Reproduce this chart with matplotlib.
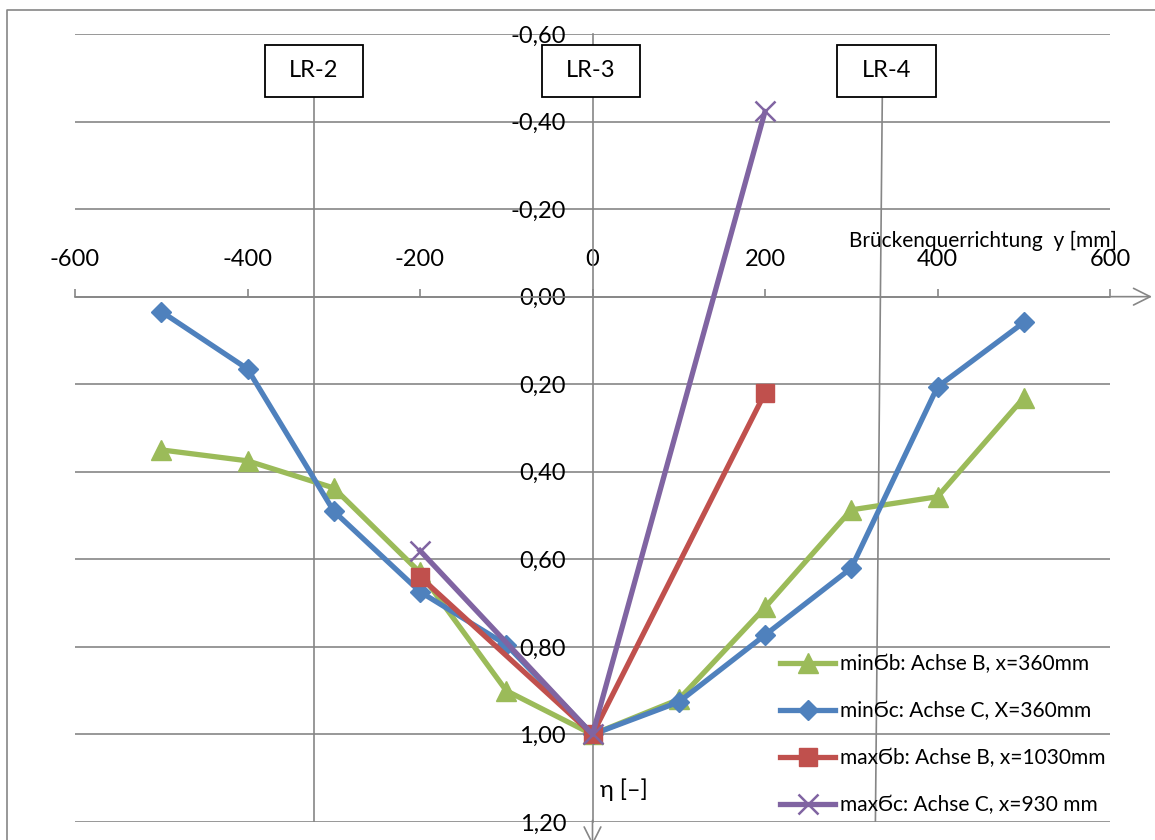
import matplotlib.pyplot as plt
import matplotlib.ticker as mticker
from matplotlib.patches import Rectangle
from matplotlib.lines import Line2D

plt.rcParams['font.family'] = ['Lato', 'DejaVu Sans']
plt.rcParams['axes.unicode_minus'] = False

# positions across the bridge [mm]
y_pos = [-500, -400, -300, -200, -100, 0, 100, 200, 300, 400, 500]
min_b = [0.35, 0.375, 0.437, 0.63, 0.90, 1.00, 0.92, 0.71, 0.487, 0.457, 0.231]
min_c = [0.034, 0.165, 0.49, 0.674, 0.795, 1.00, 0.926, 0.773, 0.62, 0.206, 0.059]
y_short = [-200, 0, 200]
max_b = [0.64, 1.00, 0.22]
max_c = [0.58, 1.00, -0.423]

labels = ['minϬb: Achse B, x=360mm', 'minϬc: Achse C, X=360mm',
          'maxϬb: Achse B, x=1030mm', 'maxϬc: Achse C, x=930 mm']

# load path markers (drawn annotations)
lr_names = ['LR-2', 'LR-3', 'LR-4']
lr_x_top = [-323, 0, 336]
lr_x_bot = [-323, 0, 328]
lr_box_x = [-323, -2, 341]

grey = '#868686'
fig = plt.figure(figsize=(11.55, 8.4), dpi=100)
ax = fig.add_axes([75 / 1155, 18 / 840, 1035 / 1155, 788 / 840])
ax.set_xlim(-600, 600)
ax.set_ylim(1.2, -0.6)

# axes through the origin
for s in ['bottom', 'right']:
    ax.spines[s].set_visible(False)
ax.spines['top'].set_position(('data', 0))
ax.spines['left'].set_position(('data', 0))
for s in ['top', 'left']:
    ax.spines[s].set_color(grey)
    ax.spines[s].set_linewidth(1.2)
    ax.spines[s].set_zorder(1)
ax.xaxis.tick_top()
ax.set_xticks(range(-600, 601, 200))
ax.set_yticks([-0.6, -0.4, -0.2, 0, 0.2, 0.4, 0.6, 0.8, 1.0, 1.2])
ax.yaxis.set_major_formatter(mticker.FuncFormatter(lambda v, p: f'{v:.2f}'.replace('.', ',')))
ax.tick_params(axis='x', direction='out', length=6, width=1.2, color=grey, pad=13, labelsize=17)
ax.tick_params(axis='y', length=0, pad=19, labelsize=17)
ax.grid(axis='y', color=grey, lw=1.2, zorder=0)
ax.set_axisbelow(True)

ax.annotate('', xy=(652, 0), xytext=(598, 0), annotation_clip=False,
            arrowprops=dict(arrowstyle='->', color=grey, lw=1.2, mutation_scale=30))
ax.annotate('', xy=(0, 1.26), xytext=(0, 1.19), annotation_clip=False,
            arrowprops=dict(arrowstyle='->', color=grey, lw=1.2, mutation_scale=30))

# LR lines and boxes
for name, xt, xb, bx in zip(lr_names, lr_x_top, lr_x_bot, lr_box_x):
    if name != 'LR-3':
        ax.plot([xt, xb], [-0.457, 1.2], color=grey, lw=1.2, zorder=1)
    ax.add_patch(Rectangle((bx - 57, -0.576), 114, 0.119, facecolor='white',
                           edgecolor='black', lw=1.3, zorder=2))
    ax.text(bx, -0.517, name, ha='center', va='center', fontsize=17, zorder=3)

ax.plot(y_pos, min_b, color='#9BBB59', lw=3.8, marker='^', ms=14, label=labels[0], zorder=4)
ax.plot(y_pos, min_c, color='#4F81BD', lw=3.8, marker='D', ms=10, label=labels[1], zorder=5)
ax.plot(y_short, max_b, color='#C0504D', lw=3.8, marker='s', ms=13, label=labels[2], zorder=6)
ax.plot(y_short, max_c, color='#8064A2', lw=3.8, marker='x', ms=14, mew=1.8, label=labels[3], zorder=7)

ax.text(297, -0.128, 'Brückenquerrichtung  y [mm]', ha='left', va='center', fontsize=15)
ax.text(9, 1.127, 'η [–]', ha='left', va='center', fontsize=17)

fig.legend(loc='upper left', bbox_to_anchor=(780 / 1155, 1 - 654 / 840), frameon=False,
           fontsize=15, handlelength=2.65, handletextpad=0.25, labelspacing=1.3,
           borderpad=0, borderaxespad=0)

# outer chart frame
fig.add_artist(Line2D([7 / 1155, 7 / 1155, 1], [0, 1 - 10 / 840, 1 - 10 / 840],
                      transform=fig.transFigure, color=grey, lw=1.2))

fig.savefig('out.png', dpi=100)
